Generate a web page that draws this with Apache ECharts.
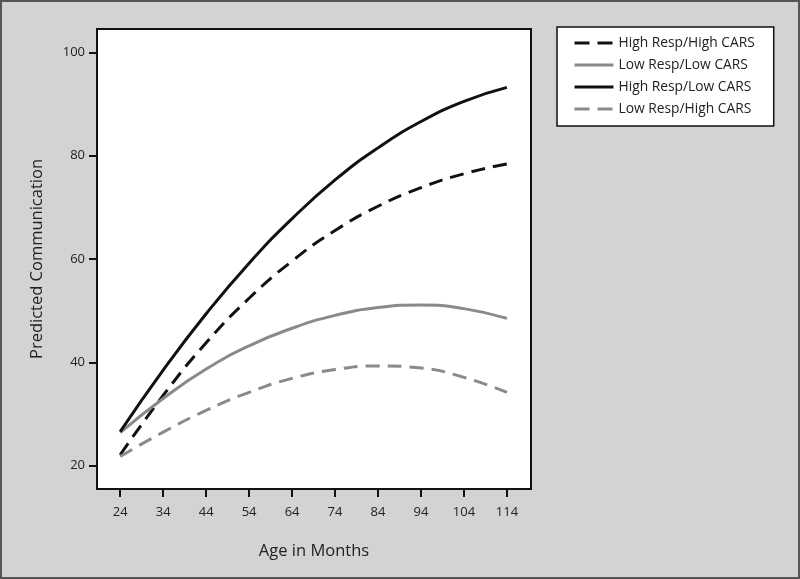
<!DOCTYPE html>
<html>
<head>
<meta charset="utf-8">
<title>Predicted Communication</title>
<script src="https://cdn.jsdelivr.net/npm/echarts@6/dist/echarts.min.js"></script>
<style>
html,body{margin:0;padding:0;}
#main{width:800px;height:579px;}
</style>
</head>
<body>
<div id="main"></div>
<script>
// age in months (x ticks)
var ages = [24, 34, 44, 54, 64, 74, 84, 94, 104, 114];
var yTicks = [20, 40, 60, 80, 100];

// values at each tick
var highRespHighCars = [22.1, 33.6, 43.8, 52.4, 59.6, 65.5, 70.2, 73.8, 76.5, 78.4];
var lowRespLowCars = [26.4, 33.0, 38.7, 43.2, 46.6, 49.1, 50.6, 51.1, 50.4, 48.5];
var highRespLowCars = [26.6, 38.5, 49.4, 59.2, 67.8, 75.3, 81.5, 86.6, 90.5, 93.2];
var lowRespHighCars = [21.8, 26.5, 30.7, 34.2, 36.9, 38.6, 39.3, 38.9, 37.1, 34.2];

var names = ['High Resp/High CARS', 'Low Resp/Low CARS', 'High Resp/Low CARS', 'Low Resp/High CARS'];
var dashed = [true, false, false, true];

function pairs(vals){
	return ages.map(function(a, i){ return [a, vals[i]]; });
}

function mkSeries(name, vals, color, isDash){
	return {
		name: name,
		type: 'line',
		data: pairs(vals),
		smooth: true,
		symbol: 'none',
		lineStyle: {color: color, width: 3, type: isDash ? [14, 8] : 'solid'},
		itemStyle: {color: color}
	};
}

window.onload = function(){
	var myChart = echarts.init(document.getElementById('main'));
	var font = 'Open Sans';
	var option = {
		animation: false,
		backgroundColor: '#d3d3d3',
		textStyle: {fontFamily: font},
		graphic: [{
			type: 'rect',
			shape: {x: 1, y: 1, width: 798, height: 577},
			style: {fill: 'none', stroke: '#555', lineWidth: 2},
			silent: true
		}],
		grid: {
			left: 97, top: 29, right: 269, bottom: 90,
			show: true,
			backgroundColor: '#fff',
			borderColor: '#111',
			borderWidth: 2
		},
		legend: {
			orient: 'vertical',
			left: 557, top: 27,
			padding: [9, 19, 10, 16],
			itemWidth: 39,
			itemHeight: 14,
			itemGap: 8,
			backgroundColor: '#fff',
			borderColor: '#111',
			borderWidth: 1.5,
			itemStyle: {opacity: 0},
			data: names.map(function(n, i){
				return {name: n, lineStyle: {width: 3, type: dashed[i] ? [15, 8] : 'solid'}};
			}),
			textStyle: {fontFamily: font, fontSize: 13.8, color: '#222'}
		},
		xAxis: {
			type: 'value',
			min: 18.6, max: 119.6,
			name: 'Age in Months',
			nameLocation: 'middle',
			nameGap: 54,
			nameTextStyle: {fontFamily: font, fontSize: 16.5, color: '#222'},
			axisLine: {show: true, lineStyle: {color: '#111', width: 2}},
			axisTick: {show: true, customValues: ages, length: 8, lineStyle: {color: '#111', width: 2}},
			axisLabel: {customValues: ages, margin: 17, fontSize: 13, color: '#222', fontFamily: font},
			splitLine: {show: false}
		},
		yAxis: {
			type: 'value',
			min: 15.5, max: 104.5,
			name: 'Predicted Communication',
			nameLocation: 'middle',
			nameGap: 51,
			nameTextStyle: {fontFamily: font, fontSize: 16.5, color: '#222'},
			axisLine: {show: true, lineStyle: {color: '#111', width: 2}},
			axisTick: {show: true, customValues: yTicks, length: 8, lineStyle: {color: '#111', width: 2}},
			axisLabel: {customValues: yTicks, margin: 12, fontSize: 13, color: '#222', fontFamily: font},
			splitLine: {show: false}
		},
		series: [
			mkSeries(names[0], highRespHighCars, '#111', dashed[0]),
			mkSeries(names[1], lowRespLowCars, '#8a8a8a', dashed[1]),
			mkSeries(names[2], highRespLowCars, '#111', dashed[2]),
			mkSeries(names[3], lowRespHighCars, '#8a8a8a', dashed[3])
		]
	};
	myChart.setOption(option);
};
</script>
</body>
</html>
